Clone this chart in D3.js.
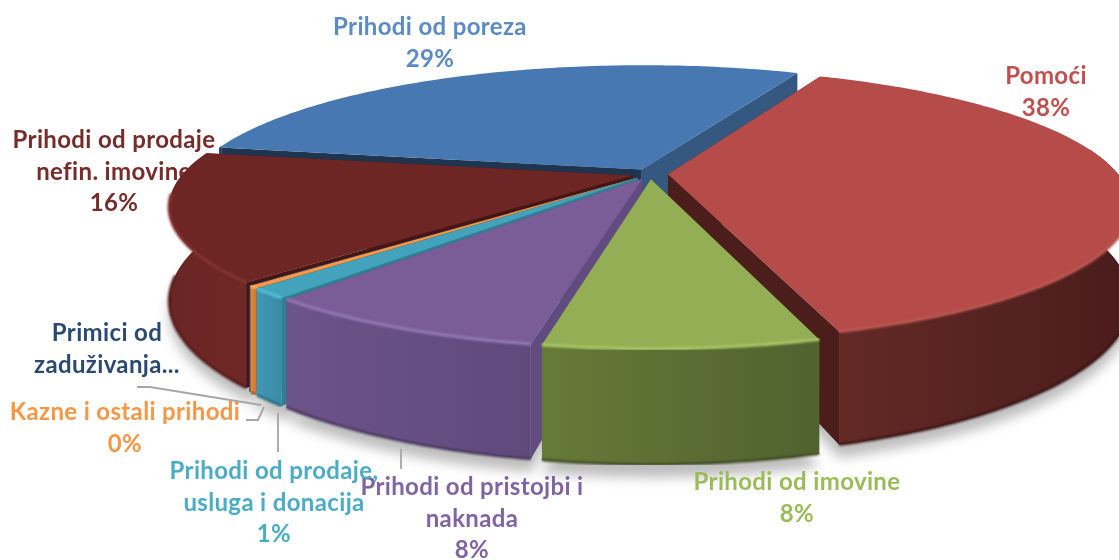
<!DOCTYPE html>
<html>
<head>
<meta charset="utf-8">
<script src="https://cdn.jsdelivr.net/npm/d3@7"></script>
<style>
html, body { margin: 0; padding: 0; background: #fff; }
svg { display: block; filter: blur(0.4px); }
text { font-family: Lato, "Open Sans", sans-serif; font-weight: 700; font-size: 24px; letter-spacing: 0.35px; text-anchor: middle; }
</style>
</head>
<body>
<div id="chart"></div>
<script>
const categories = ["Pomoći", "Prihodi od imovine", "Prihodi od pristojbi i naknada", "Prihodi od prodaje, usluga i donacija",
	"Kazne i ostali prihodi", "Primici od zaduživanja", "Prihodi od prodaje nefin. imovine", "Prihodi od poreza"];
const values = [38.5, 7.7, 8.2, 1.2, 0.3, 0.05, 15.1, 28.95];

// colours per slice: top face, cut faces, wall left, wall right, rim highlight
const topColors = ["#b54c49", "#93ae55", "#7a5c96", "#43a3bc", "#f79646", "#2c4d75", "#6e2624", "#4878b2"];
const cutStartColors = ["#4b1e1c", "#4f6230", "#624b80", "#2f7f92", "#a8642a", "#1f344f", "#451615", "#1f344f"];
const cutEndColors = ["#4b1e1c", "#5b7033", "#624b80", "#2f7f92", "#a8642a", "#1f344f", "#451615", "#34587f"];
const wallLeft = ["#632a25", "#667a38", "#6c5389", "#3f98b4", "#e08a40", "#2c4d75", "#6a2624", "#1f344f"];
const wallRight = ["#4a1c1c", "#50622f", "#5f4a7c", "#3a8ba6", "#c97a36", "#2c4d75", "#6e2826", "#34587f"];
const rimColors = ["#bb5450", "#a9c765", "#9478b4", "#52bfdc", "#ffb060", "#3c6090", "#833230", "#5a8ac6"];

const labelLines = [["Pomoći", "38%"], ["Prihodi od imovine", "8%"], ["Prihodi od pristojbi i", "naknada", "8%"],
	["Prihodi od prodaje,", "usluga i donacija", "1%"], ["Kazne i ostali prihodi", "0%"], ["Primici od", "zaduživanja..."],
	["Prihodi od prodaje", "nefin. imovine", "16%"], ["Prihodi od poreza", "29%"]];
const labelColors = ["#c0504d", "#9bbb59", "#8064a2", "#4bacc6", "#f79646", "#2b4a73", "#772c2a", "#5b8ac4"];
const labelX = [1046, 797, 472, 274, 125, 107, 114, 430];
const labelY = [76, 482, 487, 471, 412, 333, 140, 27];

const leaders = [
	[[137, 387], [150, 387], [261, 405]],
	[[246, 420], [258, 420], [264, 407]],
	[[278, 413], [278, 452]],
	[[401, 449], [401, 469]]
];

// draw order, back to front
const drawOrder = [7, 6, 5, 4, 3, 2, 0, 1];

const width = 1119, height = 560;
const cx = 650, cy = 173, explode = 0.04;
const persp = 0.222, depth = 89;

const xScale = d3.scaleLinear().domain([-1, 1]).range([cx - 450, cx + 450]);
const yScale = d3.scaleLinear().domain([-1, 1]).range([cy + 130, cy - 128]);

// plane position (u, v) at level z (0 top, 1 bottom) to the screen
function project(u, v, z){
	let s = 1 / (1 + persp * v);
	return [cx + (xScale(u) - cx) * s, cy + (yScale(v) - cy) * s + z * depth * s];
}

const pie = d3.pie().sort(null)
	.startAngle(24.5 * Math.PI / 180)
	.endAngle(24.5 * Math.PI / 180 + 2 * Math.PI);
const arcs = pie(values);
const line = d3.line();

const svg = d3.select("#chart").append("svg").attr("width", width).attr("height", height);
const defs = svg.append("defs");
defs.append("filter").attr("id", "soft").attr("x", "-10%").attr("y", "-10%").attr("width", "120%").attr("height", "130%")
	.append("feGaussianBlur").attr("stdDeviation", 6);
defs.append("filter").attr("id", "rimblur").attr("x", "-5%").attr("y", "-5%").attr("width", "110%").attr("height", "110%")
	.append("feGaussianBlur").attr("stdDeviation", 1.3);
const grads = defs.selectAll("linearGradient").data(arcs).join("linearGradient")
	.attr("id", (d, i) => "wall" + i);
grads.append("stop").attr("offset", "0%").attr("stop-color", (d, i) => wallLeft[i]);
grads.append("stop").attr("offset", "100%").attr("stop-color", (d, i) => wallRight[i]);

function rimAngles(d){
	let n = Math.max(2, Math.ceil((d.endAngle - d.startAngle) * 60));
	return d3.range(n + 1).map(k => d.startAngle + (d.endAngle - d.startAngle) * k / n);
}

function rimPoint(d, a, z){
	let off = (d.startAngle + d.endAngle) / 2;
	return project(Math.sin(a) + explode * Math.sin(off), Math.cos(a) + explode * Math.cos(off), z);
}

function slicePoints(d, z){
	return rimAngles(d).map(a => rimPoint(d, a, z));
}

// only the part of the rim that faces the viewer has a wall
function frontPoints(d, z){
	return rimAngles(d).filter(a => Math.cos(a) < 0.2).map(a => rimPoint(d, a, z));
}

function apexPoint(d, z){
	let off = (d.startAngle + d.endAngle) / 2;
	return project(explode * Math.sin(off), explode * Math.cos(off), z);
}

// soft shadow under the pie
svg.append("g").attr("filter", "url(#soft)").attr("transform", "translate(0,13)")
	.selectAll("path").data(arcs).join("path")
	.attr("fill", "#bdbdbd")
	.attr("d", d => line(slicePoints(d, 1).concat([apexPoint(d, 1)])) + "Z");

// labels go under the pie, the slice hides part of the nefin. imovine label
const labels = svg.append("g");
categories.forEach(function(name, i){
	labels.append("text").attr("fill", labelColors[i]).attr("x", labelX[i]).attr("y", labelY[i] + 8)
		.selectAll("tspan").data(labelLines[i]).join("tspan")
		.attr("x", labelX[i]).attr("dy", (t, k) => k ? 31.5 : 0).text(t => t);
});

svg.append("g").selectAll("path").data(leaders).join("path")
	.attr("fill", "none").attr("stroke", "#a6a6a6").attr("stroke-width", 1.8)
	.attr("d", line);

const slices = svg.append("g");
drawOrder.forEach(function(i){
	let d = arcs[i];
	let g = slices.append("g");
	let top = slicePoints(d, 0), bot = slicePoints(d, 1);
	let a0 = apexPoint(d, 0), a1 = apexPoint(d, 1);

	// cut faces from the apex to the rim
	g.append("path").attr("fill", cutStartColors[i])
		.attr("d", line([a0, top[0], bot[0], a1]) + "Z");
	g.append("path").attr("fill", cutEndColors[i])
		.attr("d", line([a0, top[top.length - 1], bot[bot.length - 1], a1]) + "Z");
	// outer wall
	let frontTop = frontPoints(d, 0), frontBot = frontPoints(d, 1);
	if (frontTop.length > 1) {
		g.append("path").attr("fill", "url(#wall" + i + ")")
			.attr("d", line(frontTop.concat(frontBot.slice().reverse())) + "Z");
	}
	// top face
	g.append("path").attr("fill", topColors[i])
		.attr("d", line([a0].concat(top)) + "Z");
	// bevel light along the rim, dark along the foot of the wall
	let rim = top.filter(p => p[1] > cy + 20);
	let foot = bot.filter(p => p[1] > cy + 100);
	if (rim.length > 1) {
		g.append("path").attr("fill", "none").attr("stroke", rimColors[i]).attr("stroke-width", 3)
			.attr("filter", "url(#rimblur)").attr("d", line(rim));
		g.append("path").attr("fill", "none").attr("stroke", d3.color(wallRight[i]).darker(0.8)).attr("stroke-width", 2.5)
			.attr("filter", "url(#rimblur)").attr("d", line(foot));
	}
});
</script>
</body>
</html>
